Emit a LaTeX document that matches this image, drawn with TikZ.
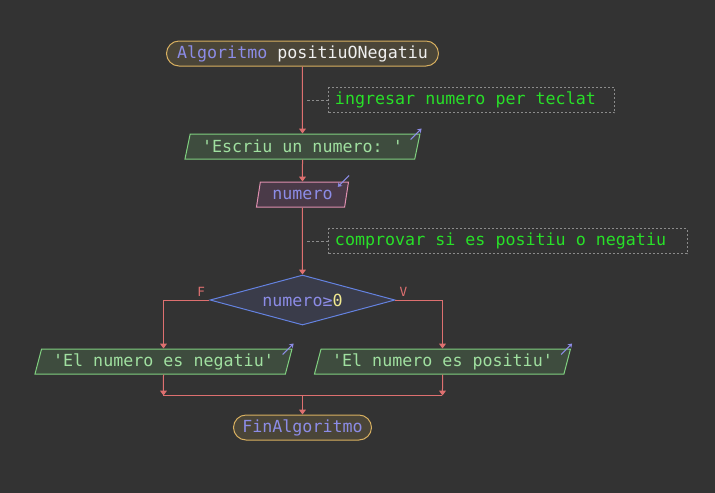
\documentclass[tikz,border=0pt]{standalone}
\usepackage{fontspec}
\setmonofont{DejaVu Sans Mono}
\usetikzlibrary{shapes.geometric, arrows.meta, positioning, calc}

\definecolor{fons}{RGB}{51,51,51}
\definecolor{linia}{RGB}{222,112,112}
\definecolor{lila}{RGB}{140,140,230}
\definecolor{verdtext}{RGB}{160,224,160}
\definecolor{verdvora}{RGB}{128,208,128}
\definecolor{verdfons}{RGB}{62,76,62}
\definecolor{rosavora}{RGB}{224,144,176}
\definecolor{rosafons}{RGB}{74,58,72}
\definecolor{blauvora}{RGB}{100,130,224}
\definecolor{blaufons}{RGB}{58,60,74}
\definecolor{orvora}{RGB}{216,176,96}
\definecolor{orfons}{RGB}{74,69,56}
\definecolor{comtext}{RGB}{40,224,40}
\definecolor{comvora}{RGB}{140,140,140}
\definecolor{groc}{RGB}{240,232,144}

\tikzstyle{startstop} = [rectangle, rounded corners=9.4pt, minimum height=18.75pt, inner xsep=5pt, inner ysep=0pt, draw=orvora, fill=orfons, text=lila, line width=0.75pt]
\tikzstyle{output} = [trapezium, trapezium left angle=68, trapezium right angle=112, trapezium stretches body, minimum height=18.75pt, inner sep=0pt, draw=verdvora, fill=verdfons, text=verdtext, line width=0.75pt]
\tikzstyle{input} = [trapezium, trapezium left angle=68, trapezium right angle=112, trapezium stretches body, minimum height=18.75pt, inner sep=0pt, draw=rosavora, fill=rosafons, text=lila, line width=0.75pt]
\tikzstyle{decision} = [diamond, aspect=3.8, minimum width=138.75pt, minimum height=37.5pt, inner sep=0pt, draw=blauvora, fill=blaufons, text=lila, line width=0.75pt]
\tikzstyle{comment} = [rectangle, minimum height=18.75pt, inner xsep=4.5pt, inner ysep=0pt, draw=comvora, dash pattern=on 1.5pt off 1.5pt, text=comtext, line width=0.75pt]
\tikzstyle{arrow} = [line width=0.75pt, draw=linia, -{Triangle[width=5.25pt,length=3.75pt]}]
\tikzstyle{line} = [line width=0.75pt, draw=linia]
\tikzstyle{noteline} = [line width=0.75pt, draw=comvora, dash pattern=on 2pt off 1.5pt]
\tikzstyle{icon} = [line width=0.75pt, draw=lila, -{Stealth[width=4pt,length=3pt]}]
\tikzstyle{flag} = [text=linia, font=\ttfamily\fontsize{9.5}{11}\selectfont, inner sep=1pt]

\begin{document}
\begin{tikzpicture}[font=\ttfamily\fontsize{12.5}{15}\selectfont]

\fill[fons] (-226.875pt,40.125pt) rectangle (309.375pt,-329.625pt);
\useasboundingbox (-226.875pt,40.125pt) rectangle (309.375pt,-329.625pt);

\node (start) [startstop, minimum width=204pt] at (0,0) {Algoritmo \textcolor{white!94!black}{positiuONegatiu}};
\node (escriu) [output, minimum width=176.25pt, below=50.25pt of start] {'Escriu un numero: '};
\node (numero) [input, minimum width=69pt, below=16.5pt of escriu] {numero};
\node (dec) [decision, below=50.25pt of numero] {numero≥\textcolor{groc}{0}};
\node (neg) [output, minimum width=192.75pt, below=17.25pt of dec, xshift=-104.25pt] {'El numero es negatiu'};
\node (pos) [output, minimum width=192pt, below=17.25pt of dec, xshift=105pt] {'El numero es positiu'};
\node (fin) [startstop, minimum width=103.5pt, below=66.75pt of dec] {FinAlgoritmo};

% comentaris
\coordinate (k1) at ($(start.south)!.5!(escriu.north)+(3pt,0)$);
\coordinate (k2) at ($(numero.south)!.5!(dec.north)+(3pt,0)$);
\node (cmt1) [comment, right=16.5pt of k1] {\makebox[205.5pt][l]{ingresar numero per teclat}};
\node (cmt2) [comment, right=16.5pt of k2] {\makebox[259.5pt][l]{comprovar si es positiu o negatiu}};

% punts d'unio
\coordinate (mL) at ([yshift=-15.75pt]neg.south);
\coordinate (mR) at (pos.south |- mL);
\coordinate (mC) at (dec.south |- mL);

\draw [arrow] (start) -- (escriu);
\draw [arrow] (escriu) -- (numero);
\draw [arrow] (numero) -- (dec);
\draw [noteline] (cmt1) -- (k1);
\draw [noteline] (cmt2) -- (k2);
\draw [arrow] (dec.west) -| node[flag, pos=0.09, above=1.5pt] {F} (neg);
\draw [arrow] (dec.east) -| node[flag, pos=0.085, above=1.5pt] {V} (pos);
\draw [arrow] (neg) -- (mL);
\draw [arrow] (pos) -- (mR);
\draw [line] (mL) -- (mR);
\draw [arrow] (mC) -- (fin);

\draw [icon] ([xshift=-7.5pt,yshift=-4.5pt]escriu.top right corner) -- ([xshift=0.75pt,yshift=3.75pt]escriu.top right corner);
\draw [icon] ([yshift=4.5pt]numero.top right corner) -- ([xshift=-8.5pt,yshift=-4pt]numero.top right corner);
\draw [icon] ([xshift=-7.5pt,yshift=-4.5pt]neg.top right corner) -- ([xshift=0.75pt,yshift=3.75pt]neg.top right corner);
\draw [icon] ([xshift=-7.5pt,yshift=-4.5pt]pos.top right corner) -- ([xshift=0.75pt,yshift=3.75pt]pos.top right corner);

\end{tikzpicture}
\end{document}
